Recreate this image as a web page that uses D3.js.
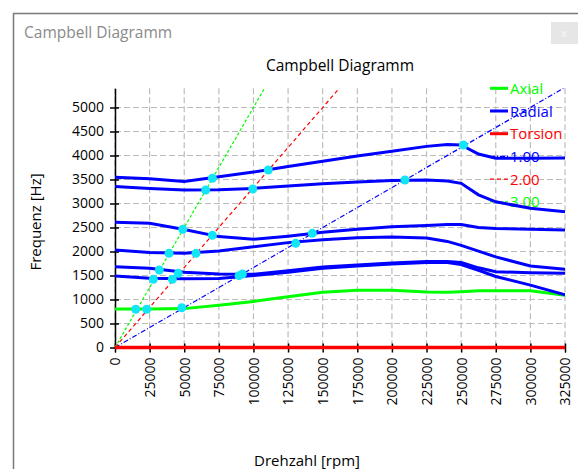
<!DOCTYPE html>
<html>
<head>
<meta charset="utf-8">
<script src="https://cdn.jsdelivr.net/npm/d3@7"></script>
<style>
  body { margin: 0; background: #fff; }
  svg { display: block; font-family: "Open Sans", "Noto Sans", sans-serif; }
</style>
</head>
<body>
<div id="chart"></div>
<script>
const WIDTH = 578, HEIGHT = 469
const PLOT = { LEFT: 115, RIGHT: 565, TOP: 88.3, BOTTOM: 347.5 }

// rpm sample positions shared by the mode curves
const rpm = [0, 25000, 50000, 75000, 100000, 125000, 150000, 175000, 200000, 225000, 240000, 250000, 262500, 275000, 300000, 325000]

const axial   = [800, 800, 810, 880, 960, 1055, 1150, 1195, 1195, 1155, 1150, 1160, 1180, 1182, 1180, 1090]
const radial1 = [3545, 3515, 3460, 3555, 3655, 3770, 3880, 3990, 4090, 4190, 4230, 4220, 4030, 3945, 3945, 3950]
const radial2 = [3355, 3310, 3280, 3285, 3315, 3365, 3410, 3450, 3480, 3490, 3470, 3420, 3180, 3035, 2900, 2830]
const radial3 = [2608, 2590, 2460, 2310, 2255, 2320, 2400, 2465, 2515, 2540, 2560, 2560, 2500, 2480, 2465, 2450]
const radial4 = [2031, 1980, 1965, 2010, 2100, 2185, 2245, 2285, 2300, 2280, 2210, 2127, 2007, 1887, 1700, 1630]
const radial5 = [1684, 1650, 1570, 1530, 1525, 1600, 1675, 1720, 1760, 1790, 1790, 1770, 1660, 1580, 1555, 1545]
const radial6 = [1490, 1445, 1430, 1440, 1500, 1570, 1650, 1700, 1740, 1770, 1770, 1730, 1610, 1480, 1300, 1100]
const torsionRpm = [0, 325000]
const torsion = [0, 0]

// engine order lines, end points read at the top edge
const order1 = [[0, 0], [325000, 5417]]
const order2 = [[0, 0], [162500, 5417]]
const order3 = [[0, 0], [108300, 5417]]

// marked crossings of order lines with the mode curves
const crossings = [
  [14950, 796], [22900, 796], [48200, 829],
  [27700, 1420], [32000, 1614], [39000, 1962], [48900, 2462], [65500, 3281], [70300, 3525],
  [41400, 1420], [45700, 1545], [58500, 1962], [70300, 2337], [99500, 3302], [110700, 3697],
  [89600, 1496], [92000, 1531], [130500, 2170], [142500, 2378], [209400, 3489], [251600, 4219]
]

const xTicks = [0, 25000, 50000, 75000, 100000, 125000, 150000, 175000, 200000, 225000, 250000, 275000, 300000, 325000]
const yTicks = [0, 500, 1000, 1500, 2000, 2500, 3000, 3500, 4000, 4500, 5000]

const legendNames = ["Axial", "Radial", "Torsion", "1.00", "2.00", "3.00"]

const BLUE = "#0000ff", GREEN = "#00ff00", RED = "#ff0000"

const svg = d3.select("#chart").append("svg")
    .attr("width", WIDTH)
    .attr("height", HEIGHT)

// window frame
svg.append("path")
    .attr("d", `M13.5,${HEIGHT} V13.5 H${WIDTH}`)
    .attr("fill", "none")
    .attr("stroke", "#7a7a7a")
    .attr("stroke-width", 1.5)
svg.append("text")
    .attr("x", 24)
    .attr("y", 38)
    .attr("fill", "#8a8a8a")
    .attr("font-size", 15.5)
    .text("Campbell Diagramm")
svg.append("rect")
    .attr("x", 551).attr("y", 22).attr("width", 27).attr("height", 22)
    .attr("fill", "#e6e6e6")
svg.append("text")
    .attr("x", 561).attr("y", 37)
    .attr("fill", "#f8f8f8").attr("font-size", 11)
    .text("x")

const x = d3.scaleLinear().domain([0, 325000]).range([PLOT.LEFT, PLOT.RIGHT])
const y = d3.scaleLinear().domain([0, 5400]).range([PLOT.BOTTOM, PLOT.TOP])

// grid
svg.append("g").selectAll("line").data(xTicks).join("line")
    .attr("x1", d => x(d)).attr("x2", d => x(d))
    .attr("y1", PLOT.TOP).attr("y2", PLOT.BOTTOM)
    .attr("stroke", "#bdbdbd").attr("stroke-width", 1.2).attr("stroke-dasharray", "6,3")
svg.append("g").selectAll("line").data(yTicks.filter(d => d > 0)).join("line")
    .attr("x1", PLOT.LEFT).attr("x2", PLOT.RIGHT)
    .attr("y1", d => y(d)).attr("y2", d => y(d))
    .attr("stroke", "#bdbdbd").attr("stroke-width", 1.2).attr("stroke-dasharray", "6,3")

// axes
const xAxisGroup = svg.append("g")
    .attr("transform", `translate(0, ${PLOT.BOTTOM})`)
    .call(d3.axisBottom(x).tickValues(xTicks).tickFormat(d3.format("d")).tickSize(5).tickPadding(6))
xAxisGroup.select(".domain").attr("stroke", "#000")
xAxisGroup.selectAll(".tick line").attr("y1", -4).attr("stroke", "#000").attr("stroke-width", 1.5)
xAxisGroup.selectAll(".tick text")
    .attr("transform", "rotate(-90)")
    .attr("text-anchor", "end")
    .attr("x", -10).attr("y", 0).attr("dy", "0.35em")
    .attr("font-size", 14).attr("fill", "#000")
    .attr("font-family", "Open Sans, sans-serif")

const yAxisGroup = svg.append("g")
    .attr("transform", `translate(${PLOT.LEFT}, 0)`)
    .call(d3.axisLeft(y).tickValues(yTicks).tickFormat(d3.format("d")).tickSize(5).tickSizeOuter(0).tickPadding(6))
yAxisGroup.select(".domain").attr("stroke", "#000").attr("stroke-width", 1.5)
yAxisGroup.selectAll(".tick line").attr("x2", 4).attr("x1", -5).attr("stroke", "#000").attr("stroke-width", 1.5)
yAxisGroup.selectAll(".tick text")
    .attr("x", -11)
    .attr("font-size", 14).attr("fill", "#000")
    .attr("font-family", "Open Sans, sans-serif")

// titles
svg.append("text")
    .attr("x", 340).attr("y", 71)
    .attr("text-anchor", "middle")
    .attr("font-size", 15.5)
    .text("Campbell Diagramm")
svg.append("text")
    .attr("x", 307).attr("y", 466)
    .attr("text-anchor", "middle")
    .attr("font-size", 15)
    .text("Drehzahl [rpm]")
svg.append("text")
    .attr("transform", `translate(41, 222) rotate(-90)`)
    .attr("text-anchor", "middle")
    .attr("font-size", 15)
    .text("Frequenz [Hz]")

// legend (drawn below the curves, as in the original)
const legendStyle = [
    { color: GREEN, dash: null, w: 3 },
    { color: BLUE, dash: null, w: 3 },
    { color: RED, dash: null, w: 3 },
    { color: BLUE, dash: "5,2,1,2", w: 1.2 },
    { color: RED, dash: "4,3", w: 1.2 },
    { color: GREEN, dash: "3,2", w: 1.2 }
]
const legend = svg.append("g")
legendNames.forEach((name, i) => {
    const ly = 88.3 + i * 22.7
    const s = legendStyle[i]
    legend.append("line")
        .attr("x1", 490).attr("x2", 508).attr("y1", ly).attr("y2", ly)
        .attr("stroke", s.color).attr("stroke-width", s.w)
        .attr("stroke-dasharray", s.dash)
    legend.append("text")
        .attr("x", 510).attr("y", ly + 5.5)
        .attr("fill", s.color).attr("font-size", 15)
        .text(name)
})

svg.append("clipPath").attr("id", "clip")
    .append("rect")
    .attr("x", PLOT.LEFT).attr("y", PLOT.TOP)
    .attr("width", PLOT.RIGHT - PLOT.LEFT).attr("height", PLOT.BOTTOM - PLOT.TOP)

const plot = svg.append("g").attr("clip-path", "url(#clip)")
const line = d3.line().x(d => x(d[0])).y(d => y(d[1]))

// order lines
const orders = [
    { pts: order1, color: BLUE, dash: "5,2,1,2" },
    { pts: order2, color: RED, dash: "4,3" },
    { pts: order3, color: GREEN, dash: "3,2" }
]
orders.forEach(o => {
    plot.append("path")
        .attr("d", line(o.pts))
        .attr("fill", "none")
        .attr("stroke", o.color)
        .attr("stroke-width", 1.2)
        .attr("stroke-dasharray", o.dash)
})

// mode curves
const curves = [
    { vals: axial, color: GREEN },
    { vals: radial6, color: BLUE },
    { vals: radial5, color: BLUE },
    { vals: radial4, color: BLUE },
    { vals: radial3, color: BLUE },
    { vals: radial2, color: BLUE },
    { vals: radial1, color: BLUE }
]
curves.forEach(c => {
    plot.append("path")
        .attr("d", line(rpm.map((r, i) => [r, c.vals[i]])))
        .attr("fill", "none")
        .attr("stroke", c.color)
        .attr("stroke-width", 3)
})

svg.append("path")
    .attr("d", line(torsionRpm.map((r, i) => [r, torsion[i]])))
    .attr("fill", "none")
    .attr("stroke", RED)
    .attr("stroke-width", 3.5)

plot.selectAll("circle").data(crossings).join("circle")
    .attr("cx", d => x(d[0]))
    .attr("cy", d => y(d[1]))
    .attr("r", 4.5)
    .attr("fill", "#12e6f6")
</script>
</body>
</html>
